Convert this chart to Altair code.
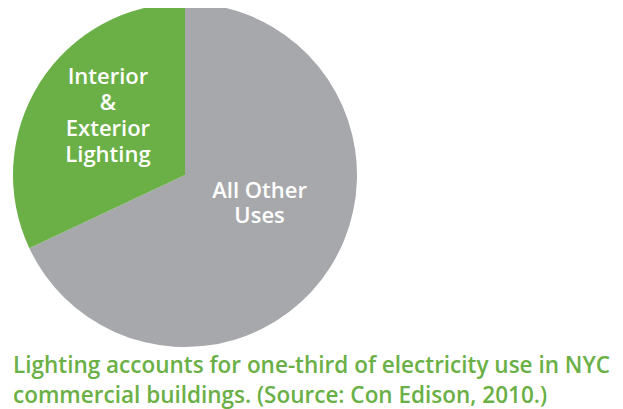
import altair as alt
import pandas as pd

categories = ["All Other Uses", "Interior & Exterior Lighting"]
labels = ["All Other\nUses", "Interior\n&\nExterior\nLighting"]
values = [68, 32]
order = [0, 1]
caption = "Lighting accounts for one-third of electricity use in NYC\ncommercial buildings. (Source: Con Edison, 2010.)"

GREEN = "#6ab046"
GRAY = "#a7a8ab"
FONT = "Open Sans"

df = pd.DataFrame({"category": categories, "label": labels, "value": values, "order": order})

cx, cy, R = 177, 167, 172

base = alt.Chart(df).encode(
    theta=alt.Theta("value:Q", stack=True),
    order=alt.Order("order:Q"),
)

pie = base.mark_arc(stroke=None).encode(
    color=alt.Color("category:N", scale=alt.Scale(domain=categories, range=[GRAY, GREEN]), legend=None),
    x=alt.value(cx), y=alt.value(cy), radius=alt.value(R),
)

txt_gray = base.mark_text(
    font=FONT, fontSize=22, fontWeight=600, color="white", lineBreak="\n",
    lineHeight=25, align="center", baseline="middle", dx=7, dy=-27,
).encode(
    text=alt.condition(alt.datum.order == 0, alt.Text("label:N"), alt.value("")),
    x=alt.value(cx), y=alt.value(cy), radius=alt.value(80),
)

txt_green = base.mark_text(
    font=FONT, fontSize=22, fontWeight=600, color="white", lineBreak="\n",
    lineHeight=26, align="center", baseline="middle", dx=4, dy=-47,
).encode(
    text=alt.condition(alt.datum.order == 1, alt.Text("label:N"), alt.value("")),
    x=alt.value(cx), y=alt.value(cy), radius=alt.value(96),
)

cap = alt.Chart(pd.DataFrame({"t": [caption]})).mark_text(
    font=FONT, fontSize=22.5, fontWeight=600, color=GREEN, lineBreak="\n",
    lineHeight=30, align="left", baseline="alphabetic",
).encode(text="t:N", x=alt.value(5), y=alt.value(365))

chart = alt.layer(pie, txt_gray, txt_green, cap).properties(
    width=607, height=401, padding=0, autosize=alt.AutoSizeParams(type="none"),
    background="white",
).configure_view(stroke=None)

chart.save("out.html", embed_options={"renderer": "svg", "actions": False})
